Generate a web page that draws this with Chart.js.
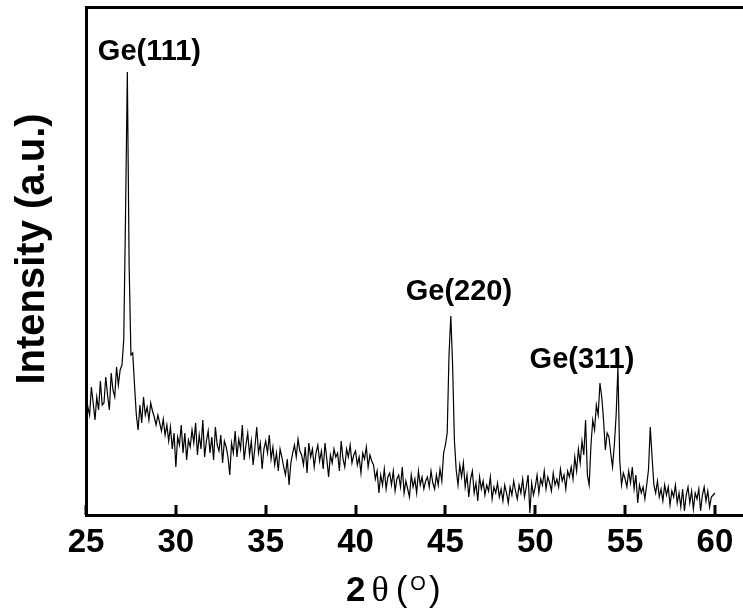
<!DOCTYPE html>
<html>
<head>
<meta charset="utf-8">
<script src="https://cdn.jsdelivr.net/npm/chart.js@4/dist/chart.umd.min.js"></script>
<style>
  html, body { margin: 0; padding: 0; background: #fff; overflow: hidden; }
  canvas { display: block; }
</style>
</head>
<body>
<canvas id="xrd" width="743" height="612"></canvas>
<script>
// 2theta grid of the scan (degrees)
const angleStart = 25;
const angleStep = 0.1;

// intensity (a.u.), one row per degree, 25.0 .. 60.0
const intensity = [
  125, 108, 100, 128, 112, 95, 118, 105, 134, 110,
  112, 138, 120, 105, 142, 125, 118, 148, 130, 145,
  150, 175, 300, 443, 250, 160, 162, 130, 100, 85,
  110, 92, 118, 100, 108, 95, 112, 104, 98, 90,
  100, 92, 84, 96, 80, 90, 74, 88, 66, 82,
  48, 78, 70, 90, 62, 82, 55, 75, 68, 85,
  72, 92, 60, 80, 66, 95, 58, 74, 84, 62,
  78, 55, 88, 70, 64, 80, 52, 74, 68, 58,
  40, 72, 62, 84, 58, 76, 66, 90, 55, 70,
  82, 60, 74, 50, 68, 88, 62, 72, 46, 66,
  74, 62, 80, 56, 68, 50, 62, 44, 66, 58,
  48, 40, 56, 30, 52, 62, 70, 58, 76, 64,
  60, 50, 68, 42, 72, 58, 66, 48, 62, 70,
  54, 64, 46, 72, 56, 38, 60, 52, 66, 58,
  62, 44, 74, 56, 48, 66, 58, 70, 52, 60,
  64, 50, 58, 42, 62, 56, 68, 48, 60, 54,
  50, 36, 44, 22, 40, 30, 46, 26, 38, 42,
  30, 44, 24, 36, 40, 28, 48, 22, 34, 26,
  18, 40, 28, 36, 22, 44, 30, 38, 26, 34,
  38, 28, 44, 32, 26, 40, 30, 46, 34, 62,
  70, 82, 160, 199, 150, 75, 45, 30, 50, 38,
  52, 28, 40, 18, 36, 44, 22, 32, 14, 38,
  26, 34, 20, 30, 24, 38, 16, 28, 22, 32,
  18, 26, 14, 30, 22, 12, 28, 20, 34, 24,
  16, 30, 22, 36, 18, 28, 40, 2, 32, 20,
  28, 40, 22, 36, 30, 44, 26, 38, 32, 24,
  42, 30, 36, 28, 46, 34, 40, 26, 44, 38,
  48, 36, 58, 44, 66, 52, 74, 60, 95, 40,
  30, 70, 95, 85, 110, 100, 132, 118, 95, 65,
  82, 78, 62, 48, 70, 100, 148, 55, 30, 42,
  36, 28, 44, 32, 48, 26, 40, 12, 30, 22,
  28, 16, 30, 45, 88, 58, 30, 22, 34, 18,
  26, 14, 30, 20, 28, 10, 24, 18, 30, 12,
  22, 8, 26, 4, 20, 28, 12, 24, 6, 22,
  16, 26, 4, 20, 28, 14, 24, 8, 18, 20,
  22
];

// x axis ticks
const xTicks = [25, 30, 35, 40, 45, 50, 55, 60];
const xMin = 25;
const xMax = 61.56;
const yMax = 508;

// peak labels
const peakNames = ['Ge(111)', 'Ge(220)', 'Ge(311)'];
const peakLabelX = [28.53, 45.75, 52.6];
const peakLabelY = [463, 223, 155];

const points = intensity.map((v, i) => ({ x: +(angleStart + i * angleStep).toFixed(2), y: v }));

const SANS = '"Liberation Sans", Arial, sans-serif';

// inward ticks, titles and peak labels
const decorations = {
  id: 'decorations',
  afterDraw(chart) {
    const c = chart.ctx;
    const xs = chart.scales.x;
    const ys = chart.scales.y;
    const area = chart.chartArea;
    c.save();

    // inward tick marks
    c.strokeStyle = '#000';
    c.lineWidth = 3;
    xTicks.forEach(t => {
      const px = Math.round(xs.getPixelForValue(t));
      c.beginPath();
      c.moveTo(px, area.bottom);
      c.lineTo(px, area.bottom - 10);
      c.stroke();
    });

    // peak labels
    c.fillStyle = '#000';
    c.font = 'bold 29px ' + SANS;
    c.textAlign = 'center';
    c.textBaseline = 'middle';
    peakNames.forEach((name, i) => {
      c.fillText(name, xs.getPixelForValue(peakLabelX[i]), ys.getPixelForValue(peakLabelY[i]));
    });

    // y title
    c.save();
    c.translate(33, 249);
    c.rotate(-Math.PI / 2);
    c.font = 'bold 40px ' + SANS;
    c.fillText('Intensity (a.u.)', 0, 0);
    c.restore();

    // x title: 2θ (°)
    c.textAlign = 'left';
    c.textBaseline = 'alphabetic';
    const base = 601;
    let x = 346;
    c.font = 'bold 35px ' + SANS;
    c.fillText('2', x, base);
    x += c.measureText('2').width + 6;
    c.font = '36px "Liberation Serif", serif';
    c.fillText('θ', x, base);
    x += c.measureText('θ').width + 7;
    c.font = '35px ' + SANS;
    c.fillText('(', x, base);
    x += c.measureText('(').width + 3;
    c.font = '20px ' + SANS;
    c.fillText('O', x, base - 11);
    x += c.measureText('O').width + 3;
    c.font = '35px ' + SANS;
    c.fillText(')', x, base);

    c.restore();
  }
};

new Chart(document.getElementById('xrd'), {
  type: 'line',
  data: {
    datasets: [{
      data: points,
      borderColor: '#000',
      borderWidth: 1.2,
      pointRadius: 0,
      tension: 0,
      fill: false
    }]
  },
  options: {
    responsive: false,
    animation: false,
    devicePixelRatio: 1,
    layout: { padding: 0 },
    plugins: { legend: { display: false }, tooltip: { enabled: false } },
    scales: {
      x: {
        type: 'linear',
        position: 'bottom',
        min: xMin,
        max: xMax,
        afterBuildTicks: s => { s.ticks = xTicks.map(v => ({ value: v })); },
        afterFit: s => { s.height = 97; },
        ticks: {
          color: '#000',
          font: { family: SANS, size: 33, weight: 'bold' },
          padding: 8,
          maxRotation: 0,
          autoSkip: false
        },
        grid: { display: false, drawTicks: false },
        border: { display: true, color: '#000', width: 3 }
      },
      xTop: {
        type: 'linear',
        position: 'top',
        min: xMin,
        max: xMax,
        afterFit: s => { s.height = 7; },
        ticks: { display: false },
        grid: { display: false, drawTicks: false },
        border: { display: true, color: '#000', width: 3 }
      },
      y: {
        type: 'linear',
        min: 0,
        max: yMax,
        afterFit: s => { s.width = 86; },
        ticks: { display: false },
        grid: { display: false, drawTicks: false },
        border: { display: true, color: '#000', width: 3 }
      }
    }
  },
  plugins: [decorations]
});
</script>
</body>
</html>
